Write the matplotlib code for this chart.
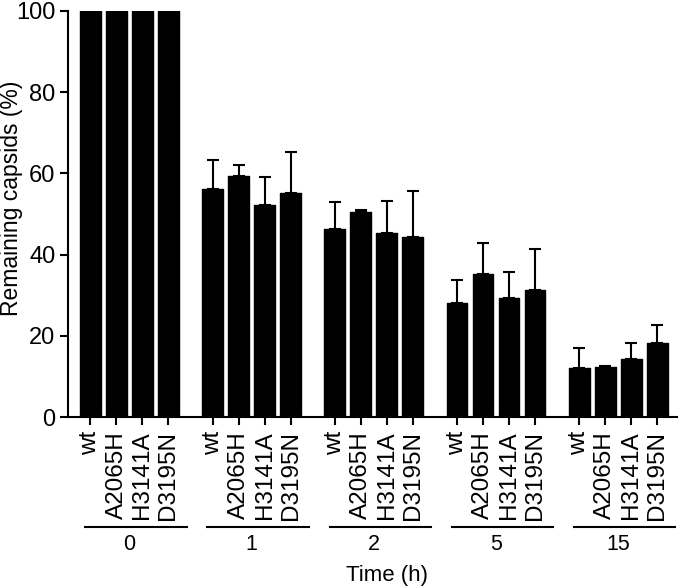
import matplotlib
matplotlib.use("Agg")
import matplotlib.pyplot as plt
import numpy as np

plt.rcParams['font.family'] = ['Liberation Sans', 'DejaVu Sans']

times = ["0", "1", "2", "5", "15"]
mutants = ["wt", "A2065H", "H3141A", "D3195N"]
means = [
    [100.0, 100.0, 100.0, 100.0],
    [56.2, 59.3, 52.3, 55.2],
    [46.2, 50.6, 45.3, 44.3],
    [28.2, 35.2, 29.3, 31.3],
    [12.1, 12.4, 14.3, 18.3],
]
errors = [
    [0.0, 0.0, 0.0, 0.0],
    [7.1, 2.8, 6.9, 10.0],
    [6.7, 0.3, 7.8, 11.3],
    [5.5, 7.7, 6.5, 10.2],
    [5.0, 0.2, 3.9, 4.3],
]

W, H = 680, 588
fig = plt.figure(figsize=(W / 100, H / 100), dpi=100)
ax = fig.add_axes([68 / W, 1 - 417 / H, (677 - 68) / W, (417 - 11) / H])

group_step = 4.7
positions = []
labels = []
vals = []
errs = []
for g, t in enumerate(times):
    for i, m in enumerate(mutants):
        positions.append(g * group_step + i)
        labels.append(m)
        vals.append(means[g][i])
        errs.append(errors[g][i])
positions = np.array(positions)

bars = ax.bar(positions, vals, width=0.8, color='black', edgecolor='black',
              linewidth=1.0, zorder=2)
for b in bars:
    b.set_joinstyle('round')
mask = np.array(errs) > 0
ax.errorbar(positions[mask], np.array(vals)[mask],
            yerr=[np.zeros(mask.sum()), np.array(errs)[mask]],
            fmt='none', ecolor='black', elinewidth=1.5, capsize=4.3,
            capthick=1.5, zorder=1)

ax.set_xlim(-0.865, 22.56)
ax.set_ylim(0, 100)
ax.set_yticks(np.arange(0, 101, 20))
ax.tick_params(axis='y', labelsize=17, width=1.5, length=6, pad=3)
ax.set_xticks(positions)
ax.set_xticklabels(labels, rotation=90, fontsize=17.5)
ax.tick_params(axis='x', width=1.5, length=6, pad=4)

for s in ['top', 'right']:
    ax.spines[s].set_visible(False)
for s in ['left', 'bottom']:
    ax.spines[s].set_linewidth(1.5)

trans = matplotlib.transforms.blended_transform_factory(ax.transData, ax.transAxes)
y_line = (417 - 527) / 406
y_lab = (417 - 544) / 406
for g, t in enumerate(times):
    x0 = g * group_step
    x1 = g * group_step + 3
    ax.plot([x0 - 0.2, x1 + 0.7], [y_line, y_line], color='black', lw=1.5,
            transform=trans, clip_on=False)
    ax.text((x0 + x1) / 2, y_lab, t, transform=trans, ha='center', va='center',
            fontsize=15.5)

fig.text(387 / W, 1 - 576 / H, "Time (h)", ha='center', va='center', fontsize=16)
fig.text(12 / W, 1 - 198 / H, "Remaining capsids (%)", rotation=90,
         ha='center', va='center', fontsize=16.5)

fig.savefig("out.png", dpi=100)
